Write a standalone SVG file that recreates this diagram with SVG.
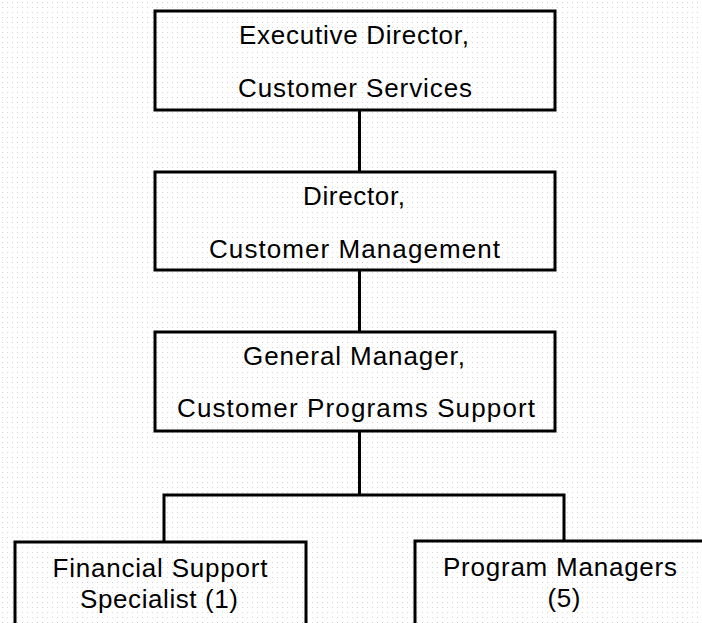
<svg xmlns="http://www.w3.org/2000/svg" width="702" height="623" viewBox="0 0 702 623">
<style>
.box{fill:none;stroke:#000;stroke-width:3}
.ln{fill:none;stroke:#000;stroke-width:3}
.t{font-family:"Liberation Sans",Arial,sans-serif;font-size:26px;fill:#000;text-anchor:middle}
</style>
<defs>
<pattern id="dots" width="5" height="5" patternUnits="userSpaceOnUse">
<rect width="5" height="5" fill="#fff"/>
<rect x="2" y="2" width="1" height="1" fill="#d4d4d4"/>
</pattern>
</defs>
<rect width="702" height="623" fill="url(#dots)"/>
<g id="connectors">
<line class="ln" x1="359.5" y1="110" x2="359.5" y2="172"/>
<line class="ln" x1="359.5" y1="270" x2="359.5" y2="332"/>
<line class="ln" x1="359.5" y1="431" x2="359.5" y2="495"/>
<polyline class="ln" points="164,542 164,495 564,495 564,542"/>
</g>
<g id="exec">
<rect class="box" x="155" y="11" width="400" height="99"/>
<text class="t" x="354" y="44" textLength="230" lengthAdjust="spacing">Executive Director,</text>
<text class="t" x="355" y="97" textLength="234" lengthAdjust="spacing">Customer Services</text>
</g>
<g id="director">
<rect class="box" x="155" y="172" width="400" height="98"/>
<text class="t" x="354" y="205" textLength="102" lengthAdjust="spacing">Director,</text>
<text class="t" x="354.5" y="258" textLength="291" lengthAdjust="spacing">Customer Management</text>
</g>
<g id="gm">
<rect class="box" x="155" y="332" width="400" height="99"/>
<text class="t" x="354" y="365" textLength="222" lengthAdjust="spacing">General Manager,</text>
<text class="t" x="356" y="417" textLength="358" lengthAdjust="spacing">Customer Programs Support</text>
</g>
<g id="fss">
<rect class="box" x="15" y="542" width="291" height="100"/>
<text class="t" x="160" y="577" textLength="215" lengthAdjust="spacing">Financial Support</text>
<text class="t" x="159" y="608" textLength="158" lengthAdjust="spacing">Specialist (1)</text>
</g>
<g id="pm">
<rect class="box" x="415" y="541" width="300" height="100"/>
<text class="t" x="560" y="576" textLength="234" lengthAdjust="spacing">Program Managers</text>
<text class="t" x="564" y="607" textLength="33" lengthAdjust="spacing">(5)</text>
</g>
</svg>
